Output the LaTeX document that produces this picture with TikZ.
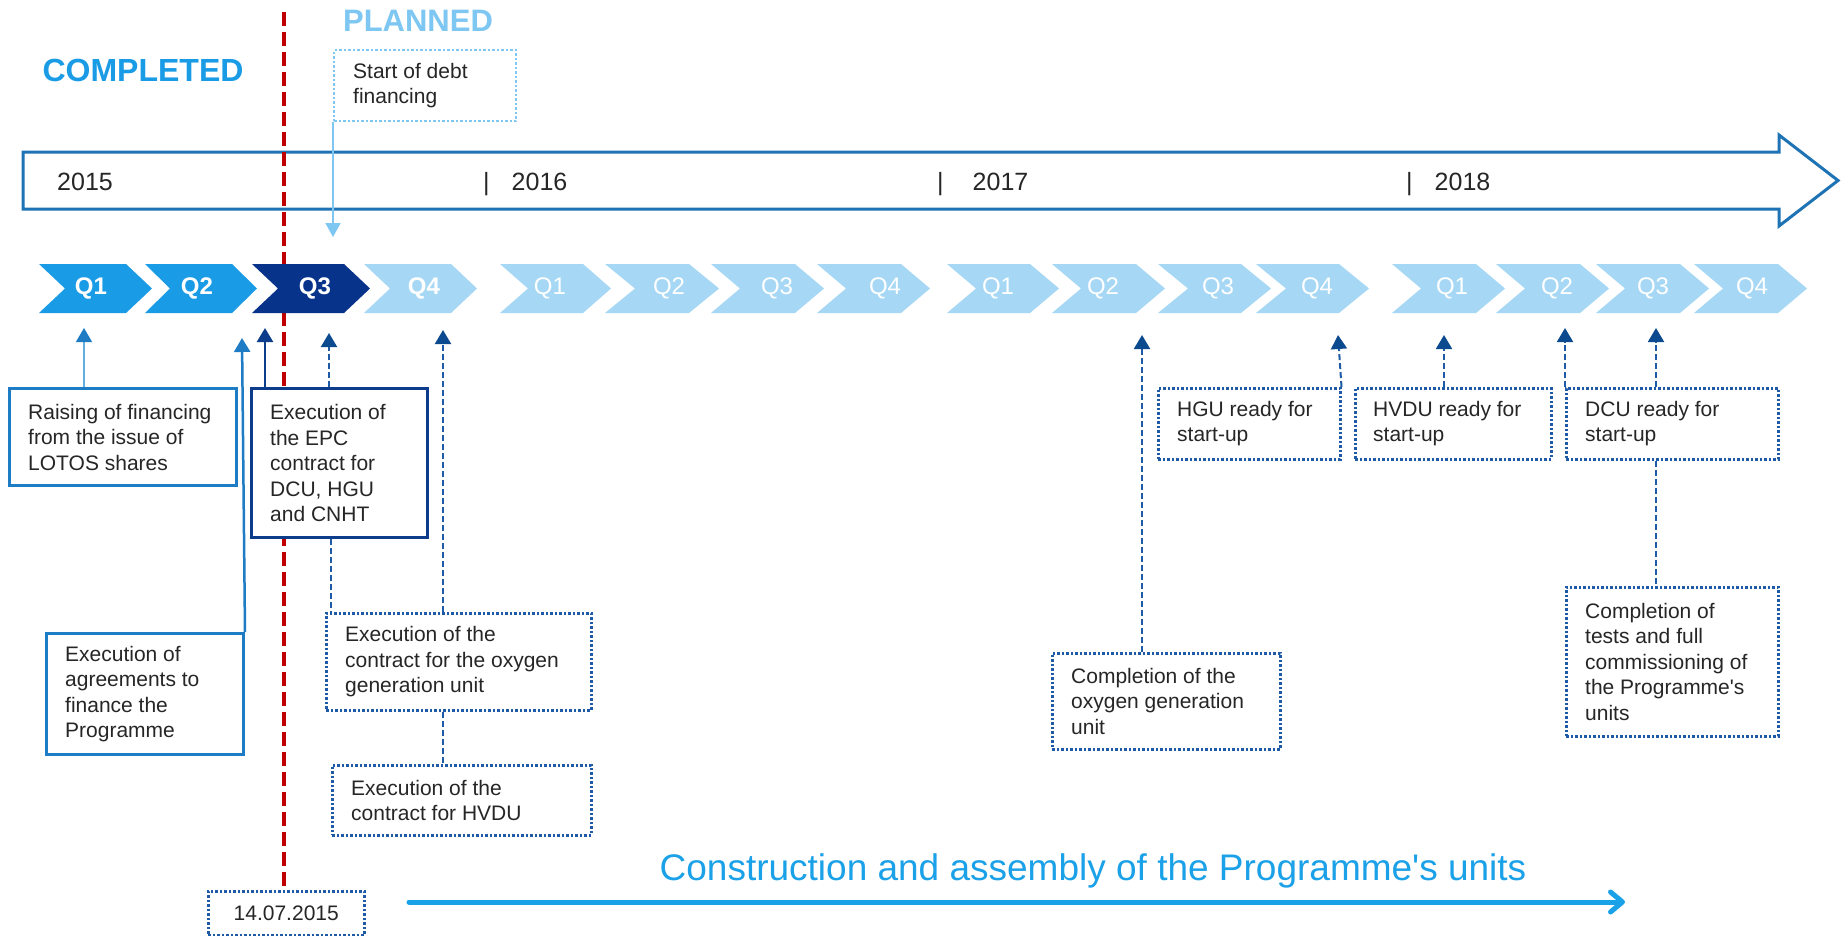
\documentclass[tikz,border=0pt]{standalone}
\usepackage{fontspec}
\setmainfont{Liberation Sans}[Ligatures=TeXOff]
\usetikzlibrary{arrows.meta}
\definecolor{cBright}{HTML}{1A9BE6}
\definecolor{cNavyQ}{HTML}{07338A}
\definecolor{cLight}{HTML}{A6D8F5}
\definecolor{cPlanned}{HTML}{7DC7F2}
\definecolor{cTimeline}{HTML}{1E73B4}
\definecolor{cMid}{HTML}{1E7CC4}
\definecolor{cMidLine}{HTML}{62AEE0}
\definecolor{cEPC}{HTML}{0D3D8A}
\definecolor{cDot}{HTML}{1F5AA6}
\definecolor{cHead}{HTML}{0B4A8F}
\definecolor{cRed}{HTML}{C00000}
\definecolor{cText}{HTML}{262626}
\definecolor{cConstr}{HTML}{1BA1E8}
\newcommand{\chev}[4]{%
  \fill[#4] (#1,264) -- (#2,264) -- (#3,288.5) -- (#2,313) -- (#1,313) -- ({#1+#3-#2},288.5) -- cycle;}
\tikzset{
  boxtext/.style={font=\fontsize{21}{25.5}\selectfont, text=cText, align=left, inner sep=0pt},
  solidbox/.style={draw=cMid, line width=3pt, fill=white, anchor=north west, inner sep=0pt},
  epcbox/.style={draw=cEPC, line width=3pt, fill=white, anchor=north west, inner sep=0pt},
  dotbox/.style={draw=cDot, line width=2.5pt, dash pattern=on 2.5pt off 2pt, fill=white, anchor=north west, inner sep=0pt},
  lightdotbox/.style={draw=cPlanned, line width=2pt, dash pattern=on 2.5pt off 2pt, fill=white, anchor=north west, inner sep=0pt},
  qbold/.style={font=\fontsize{24}{24}\selectfont\bfseries, text=white, inner sep=0pt},
  qreg/.style={font=\fontsize{24}{24}\selectfont, text=white, inner sep=0pt},
  yearlab/.style={font=\fontsize{25}{25}\selectfont, text=cText, anchor=base west, inner sep=0pt},
  dasharrow/.style={draw=cDot, line width=2pt, dash pattern=on 6pt off 3pt, -{Triangle[length=14pt,width=16pt,color=cHead,fill=cHead]}},
  dashline/.style={draw=cDot, line width=2pt, dash pattern=on 6pt off 3pt},
}
\begin{document}
\begin{tikzpicture}[x=1pt,y=-1pt]
\useasboundingbox (0,0) rectangle (1841,935);
\fill[white] (0,0) rectangle (1841,935);

% timeline arrow
\draw[cTimeline, line width=3pt, fill=white, line join=miter]
  (23,152) -- (1779,152) -- (1779,135) -- (1838,180.5) -- (1779,226) -- (1779,209) -- (23,209) -- cycle;
\node[yearlab] (y15) at (57,190) {2015};
\node[yearlab] (y16) at (483,190) {|\hspace{22pt}2016};
\node[yearlab] (y17) at (937,190) {|\hspace{29pt}2017};
\node[yearlab] (y18) at (1406,190) {|\hspace{22pt}2018};

% red dashed line
\coordinate (redtop) at (284,12);

% headings
\node[font=\fontsize{32}{32}\selectfont\bfseries, text=cBright, inner sep=0pt] (completed) at (143,70) {COMPLETED};
\node[font=\fontsize{31}{31}\selectfont\bfseries, text=cPlanned, inner sep=0pt] (planned) at (418,21) {PLANNED};

% date box (needed for red line end)
\node[dotbox, minimum width=156pt, minimum height=44pt] (date) at (207,890) {};
\node[boxtext, anchor=center] at (date.center) {14.07.2015};
\draw[cRed, line width=4pt, dash pattern=on 14pt off 6pt] (redtop) -- (redtop |- date.north);

% chevrons
\chev{39}{126}{152}{cBright}
\chev{145}{232}{257}{cBright}
\chev{252}{344}{370}{cNavyQ}
\chev{364}{451}{477}{cLight}
\chev{500}{583}{611}{cLight}
\chev{605}{689}{719}{cLight}
\chev{711}{795}{824}{cLight}
\chev{817}{901}{930}{cLight}
\chev{947}{1030}{1059}{cLight}
\chev{1052}{1136}{1165}{cLight}
\chev{1158}{1241}{1271}{cLight}
\chev{1256}{1339}{1369}{cLight}
\chev{1392}{1476}{1505}{cLight}
\chev{1496}{1580}{1609}{cLight}
\chev{1596}{1680}{1709}{cLight}
\chev{1694}{1778}{1807}{cLight}
\node[qbold] (qa1) at (91,288) {Q1};
\node[qbold] (qa2) at (197,288) {Q2};
\node[qbold] (qa3) at (315,288) {Q3};
\node[qbold] (qa4) at (424,288) {Q4};
\node[qreg] (qb1) at (550,288) {Q1};
\node[qreg] (qb2) at (669,288) {Q2};
\node[qreg] (qb3) at (777,288) {Q3};
\node[qreg] (qb4) at (885,288) {Q4};
\node[qreg] (qc1) at (998,288) {Q1};
\node[qreg] (qc2) at (1103,288) {Q2};
\node[qreg] (qc3) at (1218,288) {Q3};
\node[qreg] (qc4) at (1317,288) {Q4};
\node[qreg] (qd1) at (1452,288) {Q1};
\node[qreg] (qd2) at (1557,288) {Q2};
\node[qreg] (qd3) at (1653,288) {Q3};
\node[qreg] (qd4) at (1752,288) {Q4};

% start of debt financing
\node[lightdotbox, minimum width=182pt, minimum height=71pt] (debt) at (333,49) {};
\node[boxtext, anchor=west] at ([xshift=20pt]debt.west) {Start of debt\\financing};
\coordinate (tDebt) at (333,237);
\draw[cPlanned, line width=1.5pt, -{Triangle[length=14pt,width=15pt]}] (debt.south west) -- (tDebt);

% boxes
\node[solidbox, minimum width=227pt, minimum height=97pt] (raise) at (8,387) {};
\node[boxtext, anchor=west] at ([xshift=20pt]raise.west) {Raising of financing\\from the issue of\\LOTOS shares};
\node[solidbox, minimum width=197pt, minimum height=121pt] (agree) at (45,632) {};
\node[boxtext, anchor=west] at ([xshift=20pt]agree.west) {Execution of\\agreements to\\finance the\\Programme};
\node[epcbox, minimum width=176pt, minimum height=149pt] (epc) at (250,387) {};
\node[boxtext, anchor=west] at ([xshift=20pt]epc.west) {Execution of\\the EPC\\contract for\\DCU, HGU\\and CNHT};
\node[dotbox, minimum width=265pt, minimum height=97pt] (oxy) at (325,612) {};
\node[boxtext, anchor=west] at ([xshift=20pt]oxy.west) {Execution of the\\contract for the oxygen\\generation unit};
\node[dotbox, minimum width=259pt, minimum height=70pt] (hvdux) at (331,764) {};
\node[boxtext, anchor=west] at ([xshift=20pt]hvdux.west) {Execution of the\\contract for HVDU};
\node[dotbox, minimum width=228pt, minimum height=96pt] (cox) at (1051,652) {};
\node[boxtext, anchor=west] at ([xshift=20pt]cox.west) {Completion of the\\oxygen generation\\unit};
\node[dotbox, minimum width=182pt, minimum height=71pt] (hgu) at (1157,387) {};
\node[boxtext, anchor=west] at ([xshift=20pt]hgu.west) {HGU ready for\\start-up};
\node[dotbox, minimum width=196pt, minimum height=71pt] (hvdur) at (1354,387) {};
\node[boxtext, anchor=west] at ([xshift=19pt]hvdur.west) {HVDU ready for\\start-up};
\node[dotbox, minimum width=212pt, minimum height=71pt] (dcu) at (1565,387) {};
\node[boxtext, anchor=west] at ([xshift=20pt]dcu.west) {DCU ready for\\start-up};
\node[dotbox, minimum width=212pt, minimum height=149pt] (tests) at (1565,586) {};
\node[boxtext, anchor=west] at ([xshift=20pt]tests.west) {Completion of\\tests and full\\commissioning of\\the Programme's\\units};

% arrow tips
\coordinate (tRaise) at (84,328);
\coordinate (tAgree) at (242,338);
\coordinate (tEpc) at (265,328);
\coordinate (tEpcD) at (329,333);
\coordinate (tOxy) at (443,330);
\coordinate (tCox) at (1142,335);
\coordinate (tHgu) at (1338,335);
\coordinate (tHvdu) at (1444,335);
\coordinate (tDcuL) at (1565,328);
\coordinate (tDcu) at (1656,328);

\draw[cMidLine, line width=1.5pt, -{Triangle[length=14pt,width=16pt,color=cMid,fill=cMid]}] (tRaise |- raise.north) -- (tRaise);
\draw[cMid, line width=2.5pt, -{Triangle[length=14pt,width=16pt]}] (agree.north east) -- (tAgree);
\draw[cEPC, line width=2.5pt, -{Triangle[length=14pt,width=16pt]}] (tEpc |- epc.north) -- (tEpc);
\draw[dasharrow] (tEpcD |- epc.north) -- (tEpcD);
\draw[dashline] ([xshift=81pt]epc.south west) -- ([xshift=81pt]epc.south west |- oxy.north);
\draw[dasharrow] (tOxy |- oxy.north) -- (tOxy);
\draw[dashline] (tOxy |- oxy.south) -- (tOxy |- hvdux.north);
\draw[dasharrow] (tCox |- cox.north) -- (tCox);
\draw[dasharrow] (hgu.north east) -- (tHgu);
\draw[dasharrow] (tHvdu |- hvdur.north) -- (tHvdu);
\draw[dasharrow] (dcu.north west) -- (tDcuL);
\draw[dasharrow] (tDcu |- dcu.north) -- (tDcu);
\draw[dashline] (tDcu |- dcu.south) -- (tDcu |- tests.north);

% construction
\node[font=\fontsize{37}{37}\selectfont, text=cConstr, inner sep=0pt] (constr) at (1093,871) {Construction and assembly of the Programme's units};
\coordinate (cStart) at (409,902);
\coordinate (cEnd) at (1625,902);
\draw[cConstr, line width=5pt, line cap=round, line join=round, -{Straight Barb[length=12pt,width=20pt,line cap=round,line join=round]}] (cStart) -- (cEnd);
\end{tikzpicture}
\end{document}
